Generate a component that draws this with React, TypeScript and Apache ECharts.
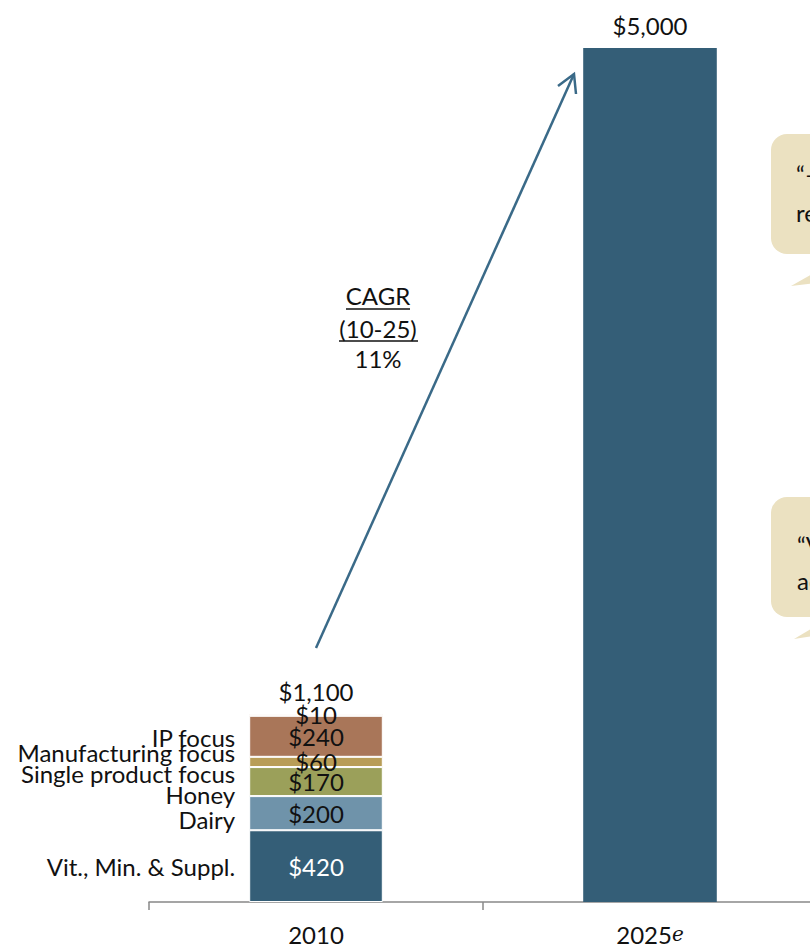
import React, { useEffect, useRef } from "react";
import * as echarts from "echarts";

const categories = ["2010", "2025e"];
const segmentNames = [
  "Vit., Min. & Suppl.",
  "Dairy",
  "Honey",
  "Single product focus",
  "Manufacturing focus",
  "IP focus",
];
const segmentValues2010 = [420, 200, 170, 60, 240, 10];
const segmentColors = ["#345E77", "#6F93AA", "#9BA05A", "#B89D57", "#A97659", "#C9A98A"];
const nameLabelOffsets = [0, 6, 13, 12, 16, 23];
const value2025 = 5000;
const totals = [1100, 5000];

const FONT = "Lato";
const fmt = (v: number) => "$" + v.toLocaleString("en-US");

export default function App() {
  const ref = useRef<HTMLDivElement>(null);
  useEffect(() => {
    if (!ref.current) return;
    const chart = echarts.init(ref.current, undefined, { renderer: "svg" });

    const mainSeries: any[] = segmentNames.map((name, i) => ({
      type: "bar",
      name,
      stack: "main",
      barWidth: "40%",
      barGap: "-100%",
      data: [segmentValues2010[i], null],
      itemStyle: { color: segmentColors[i], borderColor: "#ffffff", borderWidth: 1 },
      label: {
        show: true,
        position: "inside",
        formatter: (p: any) => fmt(p.value),
        fontFamily: FONT,
        fontSize: 24,
        color: i === 0 ? "#ffffff" : "#111111",
      },
    }));
    mainSeries.push({
      type: "bar",
      name: "2025e",
      stack: "main",
      barWidth: "40%",
      barGap: "-100%",
      data: [null, value2025],
      itemStyle: { color: segmentColors[0] },
    });

    const nameSeries = segmentNames.map((name, i) => ({
      type: "bar",
      name: name + " label",
      stack: "names",
      barWidth: "40%",
      barGap: "-100%",
      silent: true,
      data: [
        {
          value: segmentValues2010[i],
          label: { offset: [0, nameLabelOffsets[i]] },
        },
        null,
      ],
      itemStyle: { color: "transparent" },
      label: {
        show: true,
        position: "left",
        distance: 14,
        formatter: name,
        fontFamily: FONT,
        fontSize: 24,
        color: "#111111",
      },
    }));

    const totalSeries = {
      type: "bar",
      name: "Total",
      stack: "total",
      barWidth: "40%",
      barGap: "-100%",
      silent: true,
      z: 1,
      data: totals,
      itemStyle: { color: "transparent" },
      label: {
        show: true,
        position: "top",
        distance: 11,
        formatter: (p: any) => fmt(p.value),
        fontFamily: FONT,
        fontSize: 24,
        color: "#111111",
      },
    };

    const arrowColor = "#3A6A88";
    const tx = 316, ty = 648, hx = 574, hy = 74;

    chart.setOption({
      animation: false,
      grid: { left: 149, width: 668, top: 48, bottom: 44, outerBoundsMode: "none", containLabel: false },
      xAxis: {
        type: "category",
        data: categories,
        axisLine: { show: true, lineStyle: { color: "#888888", width: 1.5 } },
        axisTick: { show: true, length: 8, interval: 0, lineStyle: { color: "#888888", width: 1.5 } },
        axisLabel: {
          margin: 20,
          fontFamily: FONT,
          fontSize: 24,
          color: "#111111",
          formatter: (v: string) => (v === "2025e" ? "2025{i|e}" : v),
          rich: {
            i: { fontFamily: "DejaVu Serif", fontStyle: "italic", fontSize: 20, color: "#111111" },
          },
        },
      },
      yAxis: { type: "value", min: 0, max: 5000, show: false },
      series: [totalSeries, ...nameSeries, ...mainSeries],
      graphic: [
        {
          type: "line",
          shape: { x1: tx, y1: ty, x2: hx, y2: hy },
          style: { stroke: arrowColor, lineWidth: 2.5 },
        },
        {
          type: "polyline",
          shape: { points: [[558, 86], [hx, hy], [576, 94]] },
          style: { stroke: arrowColor, lineWidth: 2.5, fill: null },
        },
        {
          type: "text",
          x: 378, y: 295,
          style: { text: "CAGR", font: `24px ${FONT}`, fill: "#111111", align: "center", verticalAlign: "middle" },
        },
        { type: "line", shape: { x1: 346, y1: 309, x2: 410, y2: 309 }, style: { stroke: "#111111", lineWidth: 1.5 } },
        {
          type: "text",
          x: 378, y: 328,
          style: { text: "(10-25)", font: `24px ${FONT}`, fill: "#111111", align: "center", verticalAlign: "middle" },
        },
        { type: "line", shape: { x1: 339, y1: 341, x2: 418, y2: 341 }, style: { stroke: "#111111", lineWidth: 1.5 } },
        {
          type: "text",
          x: 378, y: 358,
          style: { text: "11%", font: `24px ${FONT}`, fill: "#111111", align: "center", verticalAlign: "middle" },
        },
        // callout 1
        {
          type: "polygon",
          shape: { points: [[791, 286], [840, 258], [840, 280]] },
          style: { fill: "#EBE1C1" },
        },
        {
          type: "rect",
          shape: { x: 771, y: 134, width: 120, height: 120, r: 16 },
          style: { fill: "#EBE1C1" },
        },
        {
          type: "text", x: 796, y: 173,
          style: { text: "\u201C\u2013", font: `24px ${FONT}`, fill: "#111111", verticalAlign: "middle" },
        },
        {
          type: "text", x: 796, y: 212,
          style: { text: "re", font: `24px ${FONT}`, fill: "#111111", verticalAlign: "middle" },
        },
        // callout 2
        {
          type: "polygon",
          shape: { points: [[794, 639], [840, 612], [840, 632]] },
          style: { fill: "#EBE1C1" },
        },
        {
          type: "rect",
          shape: { x: 771, y: 497, width: 120, height: 120, r: 16 },
          style: { fill: "#EBE1C1" },
        },
        {
          type: "text", x: 797, y: 544,
          style: { text: "\u201CV", font: `24px ${FONT}`, fill: "#111111", verticalAlign: "middle" },
        },
        {
          type: "text", x: 797, y: 580,
          style: { text: "ac", font: `24px ${FONT}`, fill: "#111111", verticalAlign: "middle" },
        },
      ],
    });
    return () => chart.dispose();
  }, []);

  return (
    <div
      ref={ref}
      style={{ position: "fixed", left: 0, top: 0, width: 810, height: 946, overflow: "hidden", background: "#ffffff" }}
    />
  );
}
